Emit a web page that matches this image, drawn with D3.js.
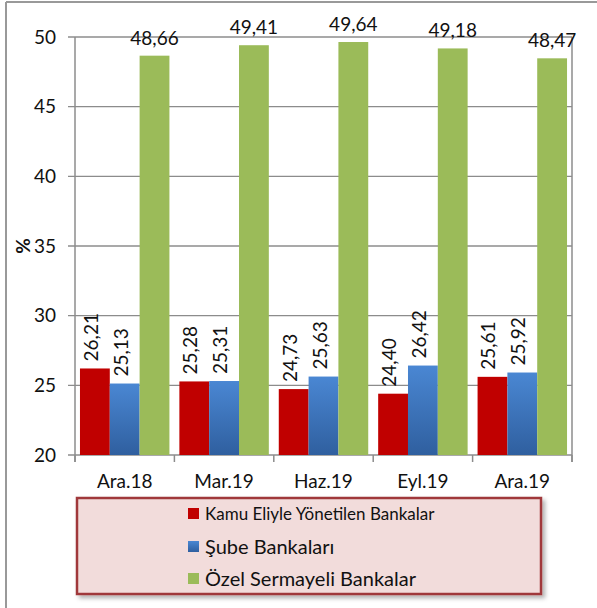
<!DOCTYPE html>
<meta charset="utf-8">
<style>
body { margin: 0; background: #fff; }
text { font-family: Lato, "Open Sans", sans-serif; fill: #111; }
</style>
<body>
<div id="chart"></div>
<script src="https://d3js.org/d3.v7.min.js"></script>
<script>
var categories = ["Ara.18", "Mar.19", "Haz.19", "Eyl.19", "Ara.19"];
var seriesNames = ["Kamu Eliyle Yönetilen Bankalar", "Şube Bankaları", "Özel Sermayeli Bankalar"];
var kamu = [26.21, 25.28, 24.73, 24.40, 25.61];
var sube = [25.13, 25.31, 25.63, 26.42, 25.92];
var ozel = [48.66, 49.41, 49.64, 49.18, 48.47];
var yTicks = [20, 25, 30, 35, 40, 45, 50];

var width = 597, height = 608;
var margin = {left: 75, right: 25, top: 37, bottom: 153};

var svg = d3.select("#chart").append("svg")
    .attr("width", width)
    .attr("height", height);

var defs = svg.append("defs");
var grad = defs.append("linearGradient")
    .attr("id", "blueGrad").attr("x1", 0).attr("y1", 0).attr("x2", 0).attr("y2", 1);
grad.append("stop").attr("offset", "0%").attr("stop-color", "#4a87d3");
grad.append("stop").attr("offset", "100%").attr("stop-color", "#2f5f9f");

var shadow = defs.append("filter").attr("id", "shadow")
    .attr("x", "-10%").attr("y", "-10%").attr("width", "130%").attr("height", "130%");
shadow.append("feDropShadow").attr("dx", 3).attr("dy", 3).attr("stdDeviation", 2)
    .attr("flood-color", "#000").attr("flood-opacity", 0.3);

// outer frame (left and top visible)
svg.append("line").attr("x1", 6).attr("x2", 6).attr("y1", 2).attr("y2", height)
    .attr("stroke", "#999").attr("stroke-width", 2);
svg.append("line").attr("x1", 6).attr("x2", width).attr("y1", 2).attr("y2", 2)
    .attr("stroke", "#999").attr("stroke-width", 2);

var x0 = d3.scaleBand()
    .domain(categories)
    .range([margin.left, width - margin.right])
    .paddingInner(0.1)
    .paddingOuter(0.05);

var x1 = d3.scaleBand()
    .domain([0, 1, 2])
    .range([0, x0.bandwidth()]);

var y = d3.scaleLinear()
    .domain([20, 50])
    .range([height - margin.bottom, margin.top]);

var plotLeft = margin.left, plotRight = width - margin.right;

// gridlines
svg.append("g").selectAll("line")
    .data(yTicks)
  .enter().append("line")
    .attr("x1", plotLeft - 7)
    .attr("x2", plotRight)
    .attr("y1", function(d) { return y(d); })
    .attr("y2", function(d) { return y(d); })
    .attr("stroke", "#8c8c8c")
    .attr("stroke-width", 1.3);

// y tick labels
svg.append("g").selectAll("text")
    .data(yTicks)
  .enter().append("text")
    .attr("x", plotLeft - 19)
    .attr("y", function(d) { return y(d); })
    .attr("dy", "0.35em")
    .attr("text-anchor", "end")
    .style("font-size", "19px")
    .text(function(d) { return d; });

// axes lines
svg.append("line").attr("x1", plotLeft).attr("x2", plotLeft)
    .attr("y1", y(50)).attr("y2", y(20) + 7)
    .attr("stroke", "#8c8c8c").attr("stroke-width", 1.5);
svg.append("line").attr("x1", plotRight).attr("x2", plotRight)
    .attr("y1", y(50)).attr("y2", y(20) + 7)
    .attr("stroke", "#8c8c8c").attr("stroke-width", 1.5);

// category separators (ticks)
var step = (plotRight - plotLeft) / categories.length;
svg.append("g").selectAll("line")
    .data(d3.range(categories.length + 1))
  .enter().append("line")
    .attr("x1", function(i) { return plotLeft + i * step; })
    .attr("x2", function(i) { return plotLeft + i * step; })
    .attr("y1", y(20))
    .attr("y2", y(20) + 7)
    .attr("stroke", "#8c8c8c")
    .attr("stroke-width", 1.5);

var colors = ["#c00000", "url(#blueGrad)", "#9bbb59"];
var series = [kamu, sube, ozel];

series.forEach(function(vals, si) {
  svg.append("g").selectAll("rect")
      .data(vals)
    .enter().append("rect")
      .attr("x", function(d, i) { return x0(categories[i]) + x1(si); })
      .attr("y", function(d) { return y(d); })
      .attr("width", x1.bandwidth())
      .attr("height", function(d) { return y(20) - y(d); })
      .attr("fill", colors[si]);
});

var fmt = function(d) { return d.toFixed(2).replace(".", ","); };

// rotated labels for first two series
[0, 1].forEach(function(si) {
  svg.append("g").selectAll("text")
      .data(series[si])
    .enter().append("text")
      .attr("transform", function(d, i) {
        var cx = x0(categories[i]) + x1(si) + x1.bandwidth() / 2;
        return "translate(" + (cx + 3) + "," + (y(d) - 7) + ") rotate(-90)";
      })
      .attr("text-anchor", "start")
      .style("font-size", "19px")
      .text(fmt);
});

// horizontal labels for third series
svg.append("g").selectAll("text")
    .data(ozel)
  .enter().append("text")
    .attr("x", function(d, i) { return x0(categories[i]) + x1(2) + x1.bandwidth() / 2; })
    .attr("y", function(d) { return y(d) - 11; })
    .attr("text-anchor", "middle")
    .style("font-size", "19px")
    .text(fmt);

// x labels
svg.append("g").selectAll("text")
    .data(categories)
  .enter().append("text")
    .attr("x", function(d) { return x0(d) + x0.bandwidth() / 2; })
    .attr("y", y(20) + 33)
    .attr("text-anchor", "middle")
    .style("font-size", "19px")
    .text(function(d) { return d; });

// y axis title
svg.append("text")
    .attr("transform", "translate(30," + y(35) + ") rotate(-90)")
    .attr("text-anchor", "middle")
    .style("font-size", "19px")
    .style("font-weight", "bold")
    .text("%");

// legend
var lg = svg.append("g");
lg.append("rect")
    .attr("x", 77).attr("y", 498)
    .attr("width", 464).attr("height", 96)
    .attr("fill", "#f2dcdb")
    .attr("stroke", "#a0393a")
    .attr("stroke-width", 2.5)
    .attr("filter", "url(#shadow)");

var legendY = [514, 547, 579];
var legendSize = ["17px", "20px", "20px"];
seriesNames.forEach(function(name, i) {
  lg.append("rect")
      .attr("x", 188).attr("y", legendY[i] - 6)
      .attr("width", 11).attr("height", 11)
      .attr("fill", colors[i]);
  lg.append("text")
      .attr("x", 205).attr("y", legendY[i])
      .attr("dy", "0.35em")
      .style("font-size", legendSize[i])
      .text(name);
});
</script>
</body>
